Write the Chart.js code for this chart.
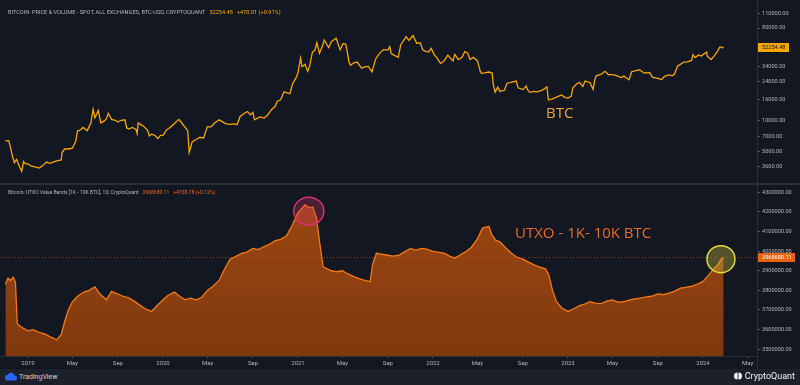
<!DOCTYPE html>
<html lang="en">
<head>
<meta charset="UTF-8">
<title>Bitcoin: Price vs UTXO Value Bands 1K-10K BTC</title>
<script src="https://cdn.jsdelivr.net/npm/chart.js"></script>
<style>
    body {
        margin: 0;
        width: 800px;
        height: 385px;
        overflow: hidden;
        background: #131722;
        font-family: Roboto, "Noto Sans", sans-serif;
        position: relative;
    }
    canvas { position: absolute; left: 0; }
    #btcChart { top: 0; }
    #utxoChart { top: 185px; }
    .sep { position: absolute; left: 0; top: 183px; width: 800px; height: 2px; background: #2a2e39; }
    .vline { position: absolute; left: 757px; top: 0; width: 1px; height: 369px; background: #2a2e39; }
    .legend { position: absolute; left: 8px; white-space: nowrap; color: #b2b5be; }
    .legend span { margin-left: 4px; }
    .note { position: absolute; font-family: "Open Sans", sans-serif; font-size: 15px; white-space: nowrap; }
    .footer { position: absolute; left: 0; top: 369px; width: 800px; height: 16px; background: #1c202b; }
    .footer .tv { position: absolute; left: 5px; top: 3px; color: #d1d4dc; font-size: 7px; display: flex; align-items: center; }
    .footer .cq { position: absolute; right: 5px; top: 2px; color: #f0f0f0; font-size: 9px; display: flex; align-items: center; }
</style>
</head>
<body>
<canvas id="btcChart" width="800" height="183"></canvas>
<div class="sep"></div>
<canvas id="utxoChart" width="800" height="184"></canvas>
<div class="vline"></div>

<div class="legend" style="top:9px; font-size:5.6px;">BITCOIN: PRICE &amp; VOLUME - SPOT, ALL EXCHANGES, BTC-USD, CRYPTOQUANT<span style="color:#f7a600">52254.48</span><span style="color:#f7a600">+470.01 (+0.91%)</span></div>
<div class="legend" style="top:189px; font-size:5px;">Bitcoin: UTXO Value Bands [1K - 10K BTC], 1D, CryptoQuant<span style="color:#ef6a1c">3968680.11</span><span style="color:#ef6a1c">+4738.78 (+0.12%)</span></div>

<div class="note" style="left:546px; top:102px; color:#eea43a;">BTC</div>
<div class="note" style="left:515px; top:222px; color:#ec6a22;">UTXO - 1K- 10K BTC</div>

<div class="footer">
    <div class="tv">
        <svg width="12" height="9" viewBox="0 0 12 9"><path d="M3 8.5h6.5a2.5 2.5 0 0 0 0-5 3.5 3.5 0 0 0-6.6-.8A2.9 2.9 0 0 0 3 8.5z" fill="#2962ff"/></svg>
        <span style="margin-left:2px">TradingView</span>
    </div>
    <div class="cq">
        <svg width="10" height="8" viewBox="0 0 10 8"><path d="M4.5 0.5a3.5 3.5 0 0 0 0 7z" fill="#fff"/><path d="M5.5 0.5a3.5 3.5 0 0 1 0 7z" fill="#fff"/></svg>
        <span style="margin-left:2px">CryptoQuant</span>
    </div>
</div>

<script>
    // ---- data ----
    const btcDates = [
        '2018-11-01','2018-11-10','2018-11-14','2018-11-20','2018-11-25','2018-12-01','2018-12-10','2018-12-15','2018-12-20','2018-12-25',
        '2019-01-01','2019-01-10','2019-01-20','2019-02-01','2019-02-10','2019-02-20','2019-03-01','2019-03-10','2019-03-20','2019-04-01',
        '2019-04-03','2019-04-10','2019-04-20','2019-05-01','2019-05-10','2019-05-15','2019-05-20','2019-05-30','2019-06-10','2019-06-20',
        '2019-06-26','2019-07-01','2019-07-10','2019-07-17','2019-07-25','2019-08-01','2019-08-06','2019-08-15','2019-08-25','2019-09-01',
        '2019-09-10','2019-09-20','2019-09-25','2019-10-01','2019-10-10','2019-10-20','2019-10-23','2019-10-26','2019-11-01','2019-11-10',
        '2019-11-20','2019-11-25','2019-12-01','2019-12-10','2019-12-18','2019-12-25',
        '2020-01-01','2020-01-10','2020-01-20','2020-02-01','2020-02-13','2020-02-20','2020-03-01','2020-03-08','2020-03-12','2020-03-20',
        '2020-04-01','2020-04-10','2020-04-20','2020-04-30','2020-05-10','2020-05-20','2020-06-01','2020-06-10','2020-06-20','2020-07-01',
        '2020-07-10','2020-07-20','2020-07-28','2020-08-10','2020-08-17','2020-08-25','2020-09-01','2020-09-05','2020-09-20','2020-10-01',
        '2020-10-10','2020-10-21','2020-10-31','2020-11-06','2020-11-15','2020-11-24','2020-12-01','2020-12-10','2020-12-17','2020-12-27',
        '2021-01-01','2021-01-08','2021-01-12','2021-01-20','2021-01-27','2021-02-01','2021-02-09','2021-02-16','2021-02-21','2021-02-28',
        '2021-03-10','2021-03-13','2021-03-25','2021-04-01','2021-04-14','2021-04-25','2021-05-03','2021-05-10','2021-05-13','2021-05-19',
        '2021-05-23','2021-06-01','2021-06-10','2021-06-22','2021-07-01','2021-07-10','2021-07-20','2021-07-30','2021-08-10','2021-08-20',
        '2021-09-01','2021-09-06','2021-09-10','2021-09-20','2021-09-29','2021-10-06','2021-10-15','2021-10-20','2021-10-28','2021-11-08',
        '2021-11-10','2021-11-18','2021-11-28','2021-12-04','2021-12-10','2021-12-20','2021-12-27',
        '2022-01-05','2022-01-10','2022-01-21','2022-01-24','2022-02-01','2022-02-10','2022-02-24','2022-03-01','2022-03-10','2022-03-20',
        '2022-03-28','2022-04-05','2022-04-11','2022-04-20','2022-05-01','2022-05-09','2022-05-12','2022-05-20','2022-06-01','2022-06-10',
        '2022-06-13','2022-06-18','2022-06-25','2022-07-01','2022-07-13','2022-07-20','2022-07-30','2022-08-14','2022-08-19','2022-09-01',
        '2022-09-10','2022-09-13','2022-09-20','2022-10-01','2022-10-10','2022-10-25','2022-11-05','2022-11-09','2022-11-20','2022-12-01',
        '2022-12-14','2022-12-25',
        '2023-01-01','2023-01-10','2023-01-14','2023-01-25','2023-02-01','2023-02-10','2023-02-16','2023-03-01','2023-03-10','2023-03-14',
        '2023-03-18','2023-04-01','2023-04-11','2023-04-20','2023-05-01','2023-05-10','2023-05-25','2023-06-01','2023-06-15','2023-06-22',
        '2023-07-01','2023-07-13','2023-07-25','2023-08-10','2023-08-17','2023-08-25','2023-09-01','2023-09-11','2023-09-20','2023-10-01',
        '2023-10-10','2023-10-16','2023-10-24','2023-11-01','2023-11-10','2023-11-20','2023-12-01','2023-12-05','2023-12-11','2023-12-20',
        '2023-12-28',
        '2024-01-01','2024-01-11','2024-01-12','2024-01-23','2024-02-01','2024-02-10','2024-02-15','2024-02-20','2024-02-22','2024-02-26'
    ];
    const btcPrices = [
        6350, 6400, 5600, 4500, 3900, 4200, 3500, 3200, 4000, 3800,
        3800, 3600, 3550, 3450, 3650, 3950, 3850, 3950, 4050, 4150,
        4900, 5300, 5300, 5400, 6300, 8000, 8000, 8600, 8000, 9500,
        12900, 10700, 12600, 9500, 9900, 10400, 11800, 10300, 10100, 9700,
        10100, 10200, 8500, 8300, 8600, 8200, 7500, 9500, 9200, 8800,
        8100, 7100, 7400, 7200, 6700, 7200,
        7200, 8100, 8600, 9400, 10300, 9600, 8600, 8000, 4900, 6200,
        6600, 6900, 6800, 8700, 8700, 9500, 10200, 9800, 9300, 9200,
        9300, 9200, 11000, 11900, 12300, 11400, 12000, 10200, 10900, 10600,
        11300, 12800, 13800, 15500, 16000, 19100, 18800, 18300, 22800, 26300,
        29400, 40700, 33500, 35500, 30400, 33500, 46500, 49000, 57500, 45200,
        55800, 61000, 51700, 59000, 63500, 49000, 56600, 55800, 49500, 37000,
        34700, 36700, 37300, 32500, 33500, 33800, 29800, 40000, 45600, 49300,
        48800, 52700, 45000, 43000, 41500, 55300, 61500, 65900, 60500, 67500,
        65000, 56900, 57200, 49300, 47500, 46700, 50700,
        43500, 41800, 36300, 36600, 38700, 43600, 38300, 44400, 39400, 41300,
        47100, 45500, 39500, 41400, 38500, 30100, 28900, 29200, 29800, 29100,
        22400, 19000, 21200, 19300, 19800, 23200, 23600, 24300, 20900, 20100,
        21800, 20200, 18900, 19300, 19100, 20000, 21300, 15900, 16300, 17000,
        17800, 16800,
        16600, 17400, 20900, 22900, 23700, 21600, 24300, 23600, 20200, 24500,
        27400, 28400, 30300, 28200, 28100, 27600, 26300, 27200, 25100, 30000,
        30600, 31400, 29200, 29400, 26600, 26100, 25900, 25200, 27200, 28000,
        27400, 28500, 33900, 35400, 37300, 37400, 38700, 44000, 41200, 43600,
        42600,
        44200, 46600, 42800, 39500, 43100, 47800, 52000, 52200, 51300, 52254.48
    ];

    const utxoDates = [
        '2018-11-01','2018-11-08','2018-11-15','2018-11-22','2018-11-28','2018-12-03','2018-12-10','2018-12-20',
        '2019-01-01','2019-01-15','2019-02-01','2019-02-15','2019-03-01','2019-03-20','2019-04-01','2019-04-10','2019-04-20','2019-05-01',
        '2019-05-15','2019-06-01','2019-06-15','2019-07-01','2019-07-15','2019-08-01','2019-08-15','2019-09-01','2019-09-15','2019-10-01',
        '2019-10-15','2019-11-01','2019-11-15','2019-12-01','2019-12-15',
        '2020-01-01','2020-01-15','2020-02-01','2020-02-15','2020-03-01','2020-03-15','2020-04-01','2020-04-15','2020-05-01','2020-05-15',
        '2020-06-01','2020-06-15','2020-07-01','2020-07-15','2020-08-01','2020-08-15','2020-09-01','2020-09-15','2020-10-01','2020-10-15',
        '2020-11-01','2020-11-15','2020-12-01','2020-12-15',
        '2021-01-01','2021-01-10','2021-01-20','2021-02-01','2021-02-10','2021-02-20','2021-03-01','2021-03-10','2021-04-01','2021-04-15',
        '2021-05-01','2021-05-15','2021-06-01','2021-06-15','2021-07-01','2021-07-15','2021-07-22','2021-08-01','2021-08-15','2021-09-01',
        '2021-09-15','2021-10-01','2021-10-15','2021-11-01','2021-11-15','2021-12-01','2021-12-15',
        '2022-01-01','2022-01-15','2022-02-01','2022-02-15','2022-03-01','2022-03-15','2022-04-01','2022-04-15','2022-05-01','2022-05-15',
        '2022-06-01','2022-06-10','2022-06-20','2022-07-01','2022-07-15','2022-08-01','2022-08-15','2022-09-01','2022-09-15','2022-10-01',
        '2022-10-15','2022-11-01','2022-11-10','2022-11-20','2022-12-01','2022-12-15',
        '2023-01-01','2023-01-15','2023-02-01','2023-02-15','2023-03-01','2023-03-15','2023-04-01','2023-04-15','2023-05-01','2023-05-15',
        '2023-06-01','2023-06-15','2023-07-01','2023-07-15','2023-08-01','2023-08-15','2023-09-01','2023-09-15','2023-10-01','2023-10-15',
        '2023-11-01','2023-11-15','2023-12-01','2023-12-15',
        '2024-01-01','2024-01-15','2024-02-01','2024-02-10','2024-02-18','2024-02-26'
    ];
    const utxoValues = [
        3830900, 3862000, 3850000, 3868000, 3840700, 3630000, 3618000, 3606000,
        3593800, 3600000, 3585000, 3578000, 3564200, 3548000, 3575000, 3640000, 3700000, 3742000,
        3770000, 3791400, 3800000, 3818000, 3780000, 3751900, 3795000, 3781500, 3770000, 3761700,
        3745000, 3722200, 3705000, 3692600, 3720000,
        3751900, 3775000, 3791400, 3770000, 3751900, 3760000, 3751900, 3765000, 3801200, 3820000,
        3850600, 3905000, 3959300, 3972000, 3988900, 3995000, 4013600, 4008000, 4023500, 4035000,
        4053100, 4060000, 4077800, 4127200,
        4196300, 4215000, 4235800, 4221000, 4225000, 4170000, 4038300, 3919800, 3900000, 3895000,
        3900000, 3885000, 3870400, 3860000, 3850600, 3845000, 3935000, 3988900, 3985000, 3979000,
        3975000, 3979000, 3995000, 4013600, 4005000, 4013600, 4010000,
        3998800, 3995000, 3988900, 3975000, 3964200, 3980000, 3998800, 4020000, 4063000, 4117300,
        4127200, 4080000, 4055000, 4048100, 4020000, 3988900, 3970000, 3959300, 3945000, 3929600,
        3920000, 3909900, 3880000, 3800000, 3742000, 3710000,
        3692600, 3705000, 3722200, 3730000, 3742000, 3735000, 3732100, 3745000, 3751900, 3740000,
        3742000, 3750000, 3756800, 3760000, 3766700, 3770000, 3781500, 3778000, 3786400, 3795000,
        3811100, 3815000, 3821000, 3830000,
        3845700, 3875000, 3914800, 3930000, 3955000, 3968680.11
    ];

    const btcTicks = [110000, 80000, 34000, 24000, 16000, 10000, 7000, 5000, 3600];
    const utxoTicks = [4300000, 4200000, 4100000, 4000000, 3900000, 3800000, 3700000, 3600000, 3500000];
    const xTickDates = ['2019-01-01','2019-05-01','2019-09-01','2020-01-01','2020-05-01','2020-09-01','2021-01-01','2021-05-01','2021-09-01',
                        '2022-01-01','2022-05-01','2022-09-01','2023-01-01','2023-05-01','2023-09-01','2024-01-01','2024-05-01'];
    const xTickLabels = ['2019','May','Sep','2020','May','Sep','2021','May','Sep','2022','May','Sep','2023','May','Sep','2024','May'];

    // decimal year from 'YYYY-MM-DD'
    function yr(s) {
        const d = new Date(s + 'T00:00:00Z');
        const y = d.getUTCFullYear();
        const a = Date.UTC(y, 0, 1), b = Date.UTC(y + 1, 0, 1);
        return y + (d - a) / (b - a);
    }

    const X_MIN = 2018.7926;
    const X_MAX = 2024.4;
    const AXIS_W = 43;
    const tickFont = { family: 'Roboto', size: 5.6 };
    const tickColor = '#b2b5be';

    const btcPoints = btcDates.map((d, i) => ({ x: yr(d), y: btcPrices[i] }));
    const utxoPoints = utxoDates.map((d, i) => ({ x: yr(d), y: utxoValues[i] }));

    // last value label box on the price axis (optionally with a dotted price line)
    function lastValuePlugin(value, text, boxColor, textColor, lineColor, boxW) {
        return {
            id: 'lastValue',
            afterDraw(chart) {
                const { ctx, chartArea } = chart;
                const y = Math.round(chart.scales.y.getPixelForValue(value));
                ctx.save();
                if (lineColor) {
                    ctx.strokeStyle = lineColor;
                    ctx.lineWidth = 1;
                    ctx.setLineDash([1, 2]);
                    ctx.beginPath();
                    ctx.moveTo(chartArea.left, y + 0.5);
                    ctx.lineTo(chartArea.right, y + 0.5);
                    ctx.stroke();
                    ctx.setLineDash([]);
                }
                ctx.fillStyle = boxColor;
                ctx.fillRect(chartArea.right, y - 4, boxW, 9);
                ctx.fillStyle = textColor;
                ctx.font = '5.6px Roboto';
                ctx.textBaseline = 'middle';
                ctx.fillText(text, chartArea.right + 5, y + 0.5);
                ctx.restore();
            }
        };
    }

    // highlight ellipses, anchored to data coordinates
    const circles = [
        { x: 2021.08, y: 4203700, rx: 15, ry: 14, stroke: '#d6336c', fill: 'rgba(214, 51, 108, 0.28)' },
        { x: 2024.133, y: 3959300, rx: 14, ry: 13.5, stroke: '#e0dc3a', fill: 'rgba(200, 196, 60, 0.35)' }
    ];
    const circlePlugin = {
        id: 'circles',
        afterDatasetsDraw(chart) {
            const { ctx, scales } = chart;
            ctx.save();
            circles.forEach(c => {
                const cx = scales.x.getPixelForValue(c.x);
                const cy = scales.y.getPixelForValue(c.y);
                ctx.beginPath();
                ctx.ellipse(cx, cy, c.rx, c.ry, 0, 0, Math.PI * 2);
                ctx.fillStyle = c.fill;
                ctx.fill();
                ctx.lineWidth = 1.5;
                ctx.strokeStyle = c.stroke;
                ctx.stroke();
            });
            ctx.restore();
        }
    };

    const yAxisCommon = {
        position: 'right',
        afterFit: s => { s.width = AXIS_W; },
        border: { display: true, color: '#2a2e39' },
        grid: { drawOnChartArea: false, drawTicks: true, tickLength: 3, color: '#5d606b' },
        ticks: { font: tickFont, color: tickColor, padding: 2, callback: v => Number(v).toFixed(2) }
    };

    new Chart(document.getElementById('btcChart'), {
        type: 'line',
        data: {
            datasets: [{
                data: btcPoints,
                borderColor: '#f7a600',
                borderWidth: 1.3,
                pointRadius: 0,
                tension: 0
            }]
        },
        options: {
            responsive: false,
            animation: false,
            layout: { padding: 0 },
            plugins: { legend: { display: false }, tooltip: { enabled: false } },
            scales: {
                x: { type: 'linear', min: X_MIN, max: X_MAX, display: false },
                y: Object.assign({}, yAxisCommon, {
                    type: 'logarithmic',
                    min: 2787,
                    max: 133030,
                    afterBuildTicks: s => { s.ticks = btcTicks.map(v => ({ value: v })); }
                })
            }
        },
        plugins: [lastValuePlugin(52254.48, '52254.48', '#f7a600', '#131722', null, 32)]
    });

    new Chart(document.getElementById('utxoChart'), {
        type: 'line',
        data: {
            datasets: [{
                data: utxoPoints,
                borderColor: '#f57a12',
                borderWidth: 1.3,
                pointRadius: 0,
                tension: 0,
                fill: 'start',
                backgroundColor: ctx => {
                    const area = ctx.chart.chartArea;
                    if (!area) return 'rgba(200, 85, 10, 0.6)';
                    const g = ctx.chart.ctx.createLinearGradient(0, area.top, 0, area.bottom);
                    g.addColorStop(0, 'rgba(210, 90, 12, 0.72)');
                    g.addColorStop(1, 'rgba(165, 68, 8, 0.75)');
                    return g;
                }
            }]
        },
        options: {
            responsive: false,
            animation: false,
            layout: { padding: 0 },
            plugins: { legend: { display: false }, tooltip: { enabled: false } },
            scales: {
                x: {
                    type: 'linear',
                    min: X_MIN,
                    max: X_MAX,
                    afterFit: s => { s.height = 13; },
                    afterBuildTicks: s => { s.ticks = xTickDates.map(d => ({ value: yr(d) })); },
                    border: { display: true, color: '#2a2e39' },
                    grid: { drawOnChartArea: false, drawTicks: true, tickLength: 2, color: '#5d606b' },
                    ticks: {
                        font: { family: 'Roboto', size: 6 },
                        color: tickColor,
                        padding: 2,
                        maxRotation: 0,
                        autoSkip: false,
                        callback: (v, i) => xTickLabels[i]
                    }
                },
                y: Object.assign({}, yAxisCommon, {
                    type: 'linear',
                    min: 3465430,
                    max: 4309880,
                    afterBuildTicks: s => { s.ticks = utxoTicks.map(v => ({ value: v })); }
                })
            }
        },
        plugins: [circlePlugin, lastValuePlugin(3968680.11, '3968680.11', '#e8620f', '#ffffff', 'rgba(232, 98, 15, 0.6)', 38)]
    });
</script>
</body>
</html>
